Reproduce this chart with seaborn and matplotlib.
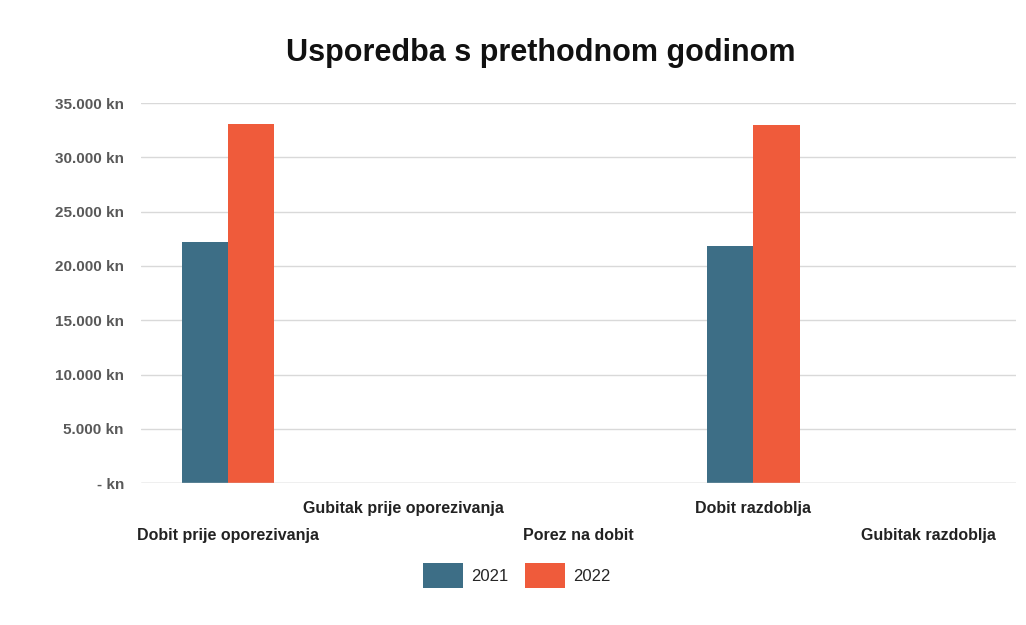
import pandas as pd
import matplotlib.pyplot as plt
import seaborn as sns
from matplotlib.ticker import FuncFormatter

# data
categories = ['Dobit prije oporezivanja', 'Gubitak prije oporezivanja', 'Porez na dobit',
              'Dobit razdoblja', 'Gubitak razdoblja']
values_2021 = [22200, 0, 0, 21850, 0]
values_2022 = [33050, 0, 0, 32950, 0]
years = ['2021', '2022']

df = pd.DataFrame({
    'kategorija': categories * 2,
    'godina': [years[0]] * 5 + [years[1]] * 5,
    'iznos': values_2021 + values_2022,
})

sns.set_style('white')
plt.rcParams['font.family'] = ['Liberation Sans', 'DejaVu Sans']

fig, ax = plt.subplots(figsize=(10.26, 6.25), dpi=100)
fig.subplots_adjust(left=0.137, right=0.99, top=0.835, bottom=0.227)

sns.barplot(data=df, x='kategorija', y='iznos', hue='godina',
            palette=['#3d6e86', '#ef5b3b'], width=0.53, saturation=1,
            linewidth=0, ax=ax)

ax.set_ylim(0, 35000)
ax.set_yticks(range(0, 35001, 5000))
def kn(v, pos):
    if v == 0:
        return '- kn'
    return f'{int(v):,} kn'.replace(',', '.')
ax.yaxis.set_major_formatter(FuncFormatter(kn))
ax.tick_params(axis='y', labelsize=11, colors='#595959', length=0, pad=12)
for t in ax.get_yticklabels():
    t.set_fontweight('bold')

# staggered category labels
labels = [c if i % 2 else '\n' + c for i, c in enumerate(categories)]
ax.set_xticks(range(len(categories)))
ax.set_xticklabels(labels, fontsize=11.5, fontweight='bold', color='#222222', linespacing=2.0)
ax.tick_params(axis='x', length=0, pad=13)

ax.yaxis.grid(True, color='#d9d9d9', linewidth=1)
ax.set_axisbelow(True)
for s in ax.spines.values():
    s.set_visible(False)
ax.axhline(0, color='#d0d0d0', linewidth=1)
ax.set_xlabel('')
ax.set_ylabel('')

fig.suptitle('Usporedba s prethodnom godinom', fontsize=22, fontweight='bold', y=0.94, x=0.527,
             color='#111111')

leg = ax.legend(loc='upper center', bbox_to_anchor=(0.43, -0.17), ncol=2, frameon=False,
                fontsize=12, handlelength=2.4, handleheight=2.0, columnspacing=1.0,
                handletextpad=0.5)

plt.savefig('out.png', dpi=100)
